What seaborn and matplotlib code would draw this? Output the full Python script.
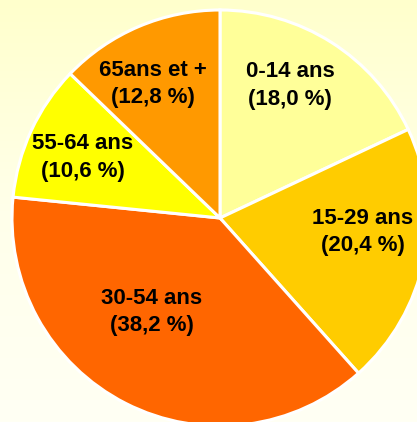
import numpy as np
import matplotlib
matplotlib.use("Agg")
import matplotlib.pyplot as plt
import seaborn as sns

sns.set_theme(style="white")
plt.rcParams['font.family'] = ['Liberation Sans', 'DejaVu Sans']

categories = ["0-14 ans", "15-29 ans", "30-54 ans", "55-64 ans", "65ans et +"]
values = [18.0, 20.4, 38.2, 10.6, 12.8]
value_labels = ["(18,0 %)", "(20,4 %)", "(38,2 %)", "(10,6 %)", "(12,8 %)"]
colors = ["#FFFF99", "#FFCC00", "#FF6600", "#FFFF00", "#FF9900"]

# label placement (fraction of radius, angular offset in degrees from wedge middle)
label_r = [0.72, 0.69, 0.56, 0.72, 0.72]
label_off = [4.5, 6.0, -9.0, 1.0, 3.5]

W, H = 417, 422
cx, cy, R = 220, 218, 208

fig = plt.figure(figsize=(W / 100, H / 100), dpi=100)
ax = fig.add_axes([0, 0, 1, 1])
x0, x1 = -cx / R, (W - cx) / R
y0, y1 = -(H - cy) / R, cy / R

# background gradient (top yellow -> almost white)
t = np.linspace(0, 1, 256)
stops = [0.0, 0.5, 1.0]
stop_cols = np.array([matplotlib.colors.to_rgb(c) for c in ["#FFFFCC", "#FFFFEA", "#FFFFF4"]])
img = np.stack([np.interp(t, stops, stop_cols[:, k]) for k in range(3)], axis=-1)[:, None, :]
ax.imshow(img, extent=[x0, x1, y0, y1], aspect="auto", zorder=0, origin="upper")

wedges, _ = ax.pie(values, colors=colors, startangle=90, counterclock=False,
                   radius=1, center=(0, 0),
                   wedgeprops=dict(edgecolor="white", linewidth=2.2))
for w in wedges:
    w.set_zorder(2)

for w, cat, vl, r, off in zip(wedges, categories, value_labels, label_r, label_off):
    mid = np.deg2rad((w.theta1 + w.theta2) / 2 + off)
    ax.text(r * np.cos(mid), r * np.sin(mid), f"{cat}\n{vl}", ha="center", va="center",
            fontsize=16, fontweight="bold", color="black", linespacing=1.4, zorder=3)

ax.set_xlim(x0, x1)
ax.set_ylim(y0, y1)
ax.set_aspect("auto")
ax.axis("off")
fig.savefig("out.png", dpi=100)
